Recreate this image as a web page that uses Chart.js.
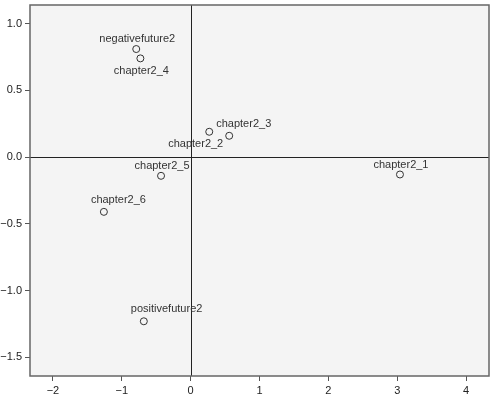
<!DOCTYPE html>
<html lang="en">
<head>
    <meta charset="UTF-8">
    <title>Scatter</title>
    <script src="https://cdn.jsdelivr.net/npm/chart.js"></script>
    <style>
        html, body { margin: 0; padding: 0; background: #fff; }
        #wrap { width: 494px; height: 402px; }
    </style>
</head>
<body>
    <div id="wrap">
        <canvas id="scatterChart" width="494" height="402"></canvas>
    </div>

    <script>
        // Point names and coordinates
        var names = ['negativefuture2', 'chapter2_4', 'chapter2_3', 'chapter2_2', 'chapter2_5', 'chapter2_6', 'positivefuture2', 'chapter2_1'];
        var xValues = [-0.79, -0.73, 0.56, 0.27, -0.43, -1.26, -0.68, 3.04];
        var yValues = [0.81, 0.74, 0.16, 0.19, -0.14, -0.41, -1.23, -0.13];
        var xTicks = [-2, -1, 0, 1, 2, 3, 4];
        var yTicks = [-1.5, -1.0, -0.5, 0.0, 0.5, 1.0];

        // where each label goes relative to its point
        var labelPlace = ['up', 'down', 'upRight', 'downLeft', 'up', 'upRight', 'upRight', 'up'];
        var placeOffsets = {
            up: [1, -10],
            down: [1, 13],
            upRight: [15, -12],
            downLeft: [-14, 12]
        };

        var points = xValues.map(function (x, i) { return { x: x, y: yValues[i] }; });

        function minusFmt(v, digits) {
            var s = Math.abs(v).toFixed(digits);
            return v < 0 ? '\u2212' + s : s;
        }

        // grey plot background, frame and zero lines
        var frame = {
            id: 'frame',
            beforeDraw: function (chart) {
                var a = chart.chartArea, c = chart.ctx;
                c.save();
                c.fillStyle = '#f4f4f4';
                c.fillRect(a.left, a.top, a.right - a.left, a.bottom - a.top);
                c.restore();
            },
            beforeDatasetsDraw: function (chart) {
                var a = chart.chartArea, c = chart.ctx;
                var x0 = chart.scales.x.getPixelForValue(0);
                var y0 = chart.scales.y.getPixelForValue(0);
                c.save();
                c.strokeStyle = '#222';
                c.lineWidth = 1;
                c.beginPath();
                c.moveTo(Math.round(x0) + 0.5, a.top);
                c.lineTo(Math.round(x0) + 0.5, a.bottom);
                c.moveTo(a.left, Math.round(y0) + 0.5);
                c.lineTo(a.right, Math.round(y0) + 0.5);
                c.stroke();
                c.strokeStyle = '#666';
                c.lineWidth = 1.5;
                c.strokeRect(a.left, a.top, a.right - a.left, a.bottom - a.top);
                c.restore();
            },
            afterDatasetsDraw: function (chart) {
                var c = chart.ctx;
                var meta = chart.getDatasetMeta(0);
                c.save();
                c.font = '11px "Liberation Sans", Arial, sans-serif';
                c.fillStyle = '#333';
                c.textAlign = 'center';
                c.textBaseline = 'middle';
                meta.data.forEach(function (el, i) {
                    var off = placeOffsets[labelPlace[i]];
                    var w = c.measureText(names[i]).width;
                    var dx = off[0];
                    if (labelPlace[i] === 'upRight') dx = off[0] + w / 2 - 28;
                    if (labelPlace[i] === 'downLeft') dx = off[0] - w / 2 + 28;
                    c.fillText(names[i], el.x + dx, el.y + off[1]);
                });
                c.restore();
            }
        };

        var ctx = document.getElementById('scatterChart').getContext('2d');
        var scatterChart = new Chart(ctx, {
            type: 'scatter',
            data: {
                datasets: [{
                    label: 'objects',
                    data: points,
                    pointRadius: 3.5,
                    pointBorderWidth: 1,
                    pointBorderColor: '#333',
                    pointBackgroundColor: 'rgba(0,0,0,0)'
                }]
            },
            options: {
                responsive: false,
                animation: false,
                layout: { padding: { top: 2, right: 2, left: 0, bottom: 0 } },
                plugins: {
                    legend: { display: false },
                    tooltip: { enabled: false }
                },
                scales: {
                    x: {
                        type: 'linear',
                        min: -2.333,
                        max: 4.333,
                        afterBuildTicks: function (scale) {
                            scale.ticks = xTicks.map(function (v) { return { value: v }; });
                        },
                        afterFit: function (scale) {
                            scale.height = 26;
                            scale.paddingLeft = 0;
                            scale.paddingRight = 0;
                        },
                        grid: { drawOnChartArea: false, drawTicks: true, tickLength: 5, color: '#555' },
                        border: { display: false },
                        ticks: {
                            padding: 3,
                            color: '#222',
                            font: { family: '"Liberation Sans", Arial, sans-serif', size: 11 },
                            callback: function (v) { return minusFmt(v, 0); }
                        }
                    },
                    y: {
                        type: 'linear',
                        min: -1.64,
                        max: 1.14,
                        afterBuildTicks: function (scale) {
                            scale.ticks = yTicks.map(function (v) { return { value: v }; });
                        },
                        afterFit: function (scale) {
                            scale.width = 30;
                            scale.paddingTop = 0;
                            scale.paddingBottom = 0;
                        },
                        grid: { drawOnChartArea: false, drawTicks: true, tickLength: 5, color: '#555' },
                        border: { display: false },
                        ticks: {
                            padding: 3,
                            color: '#222',
                            font: { family: '"Liberation Sans", Arial, sans-serif', size: 11 },
                            callback: function (v) { return minusFmt(v, 1); }
                        }
                    }
                }
            },
            plugins: [frame]
        });
    </script>
</body>
</html>
